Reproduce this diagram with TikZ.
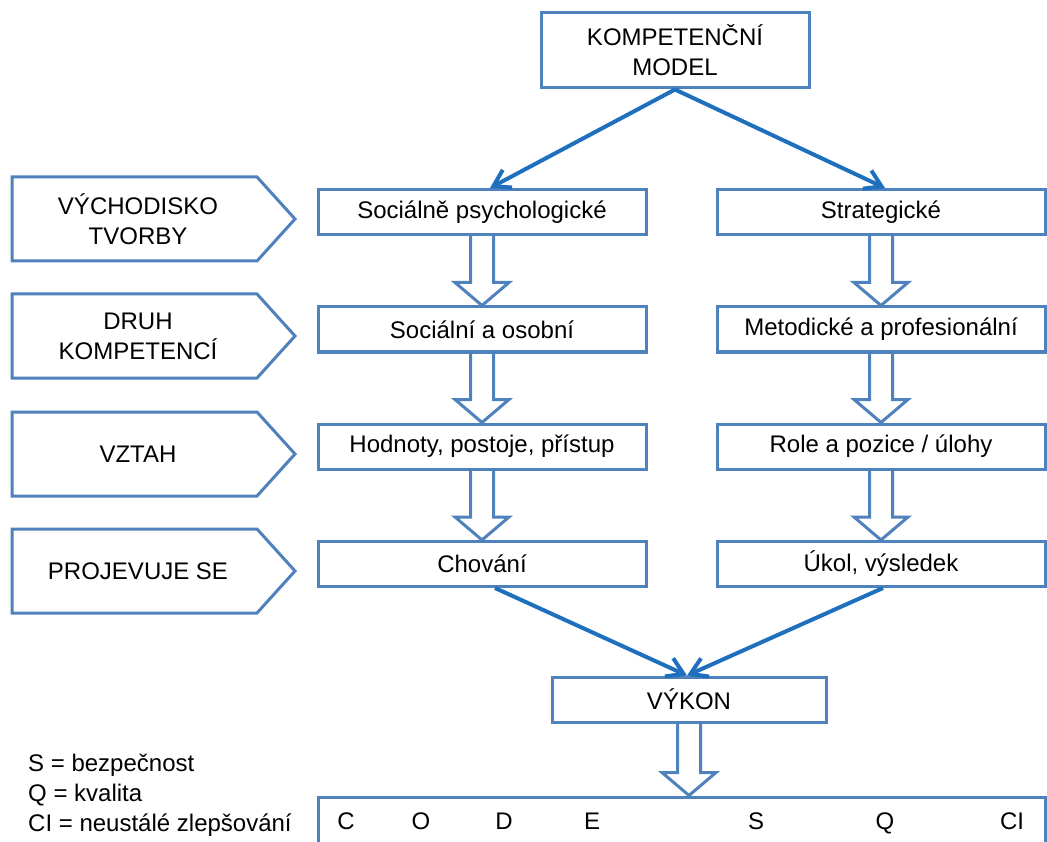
\documentclass[tikz,border=0pt]{standalone}
\usepackage{fontspec}
\setmainfont{Liberation Sans}
\usetikzlibrary{arrows.meta,calc}
\pgfdeclarelayer{background}
\pgfsetlayers{background,main}
\definecolor{boxblue}{RGB}{79,129,189}
\definecolor{flowblue}{RGB}{30,112,190}

% pentagon-shaped row heading: name, centre y, text
\newcommand\sidepent[3]{%
  \draw[pentshape] (12,#2-42) -- (257,#2-42) -- (295,#2) -- (257,#2+42) -- (12,#2+42) -- cycle;
  \node[sidetext] (#1) at (138,#2) {#3};}

% outlined block arrow pointing down from one node to the next
\newcommand\hollowdown[2]{%
  \coordinate (#1tip) at (#1.south |- #2.north);
  \begin{pgfonlayer}{background}
  \draw[hollow] ([xshift=-11.5pt]#1.south) -- ([xshift=-11.5pt,yshift=23pt]#1tip)
    -- ([xshift=-27pt,yshift=23pt]#1tip) -- (#1tip) -- ([xshift=27pt,yshift=23pt]#1tip)
    -- ([xshift=11.5pt,yshift=23pt]#1tip) -- ([xshift=11.5pt]#1.south);
  \end{pgfonlayer}}

\begin{document}
\begin{tikzpicture}[x=1pt,y=-1pt,
  every node/.style={font=\fontsize{24}{30}\selectfont, text=black},
  box/.style={draw=boxblue, line width=3pt, fill=white, inner sep=0pt, minimum height=45pt, align=center},
  colbox/.style={box, minimum width=328pt},
  pentshape/.style={draw=boxblue, line width=3pt, line join=miter},
  sidetext/.style={align=center, inner sep=0pt},
  flow/.style={draw=flowblue, line width=4pt, -{Straight Barb[length=16pt,width=20pt]}},
  hollow/.style={draw=boxblue, line width=3pt, fill=white, line join=miter}
]
\useasboundingbox (0,0) rectangle (1047,842);
\clip (0,0) rectangle (1047,842);

% top of the model
\node[box, minimum width=268pt, minimum height=75pt] (model) at (675,50.5) {KOMPETENČNÍ\\MODEL};

% row headings
\sidepent{h1}{219}{VÝCHODISKO\\TVORBY}
\sidepent{h2}{336}{DRUH\\KOMPETENCÍ}
\sidepent{h3}{454}{VZTAH}
\sidepent{h4}{571}{PROJEVUJE SE}

% left column
\node[colbox] (s1) at (482,212)   {Sociálně psychologické};
\node[colbox] (s2) at (482,329.5) {Sociální a osobní};
\node[colbox] (s3) at (482,446.5) {Hodnoty, postoje, přístup};
\node[colbox] (s4) at (482,564)   {Chování};

% right column
\node[colbox] (r1) at (881,212)   {Strategické};
\node[colbox] (r2) at (881,329.5) {Metodické a profesionální};
\node[colbox] (r3) at (881,446.5) {Role a pozice / úlohy};
\node[colbox] (r4) at (881,564)   {Úkol, výsledek};

% result
\node[box, minimum width=274pt] (vykon) at (689,699.5) {VÝKON};
\node[box, minimum width=727pt, minimum height=83pt] (codes) at (681.5,838.5) {};

% letters in the bottom strip
\foreach \l/\x in {C/346, O/421, D/504, E/592, S/756, Q/885, CI/1012}
  \node[inner sep=0pt, anchor=base] (code\l) at (\x,829) {\l};

% legend
\node[anchor=base west, inner sep=0pt] (legS)  at (28,771) {S = bezpečnost};
\node[anchor=base west, inner sep=0pt] (legQ)  at (28,801) {Q = kvalita};
\node[anchor=base west, inner sep=0pt] (legCI) at (28,831) {CI = neustálé zlepšování};

% block arrows down the columns
\hollowdown{s1}{s2}
\hollowdown{s2}{s3}
\hollowdown{s3}{s4}
\hollowdown{r1}{r2}
\hollowdown{r2}{r3}
\hollowdown{r3}{r4}
\hollowdown{vykon}{codes}

% diagonal connectors
\draw[flow] (model.south) -- ([xshift=8pt]s1.north);
\draw[flow] (model.south) -- ([xshift=4pt]r1.north);
\draw[flow] ([xshift=13pt]s4.south) -- ([xshift=-2pt]vykon.north);
\draw[flow] ([xshift=2pt]r4.south) -- ([xshift=-2pt]vykon.north);
\end{tikzpicture}
\end{document}
